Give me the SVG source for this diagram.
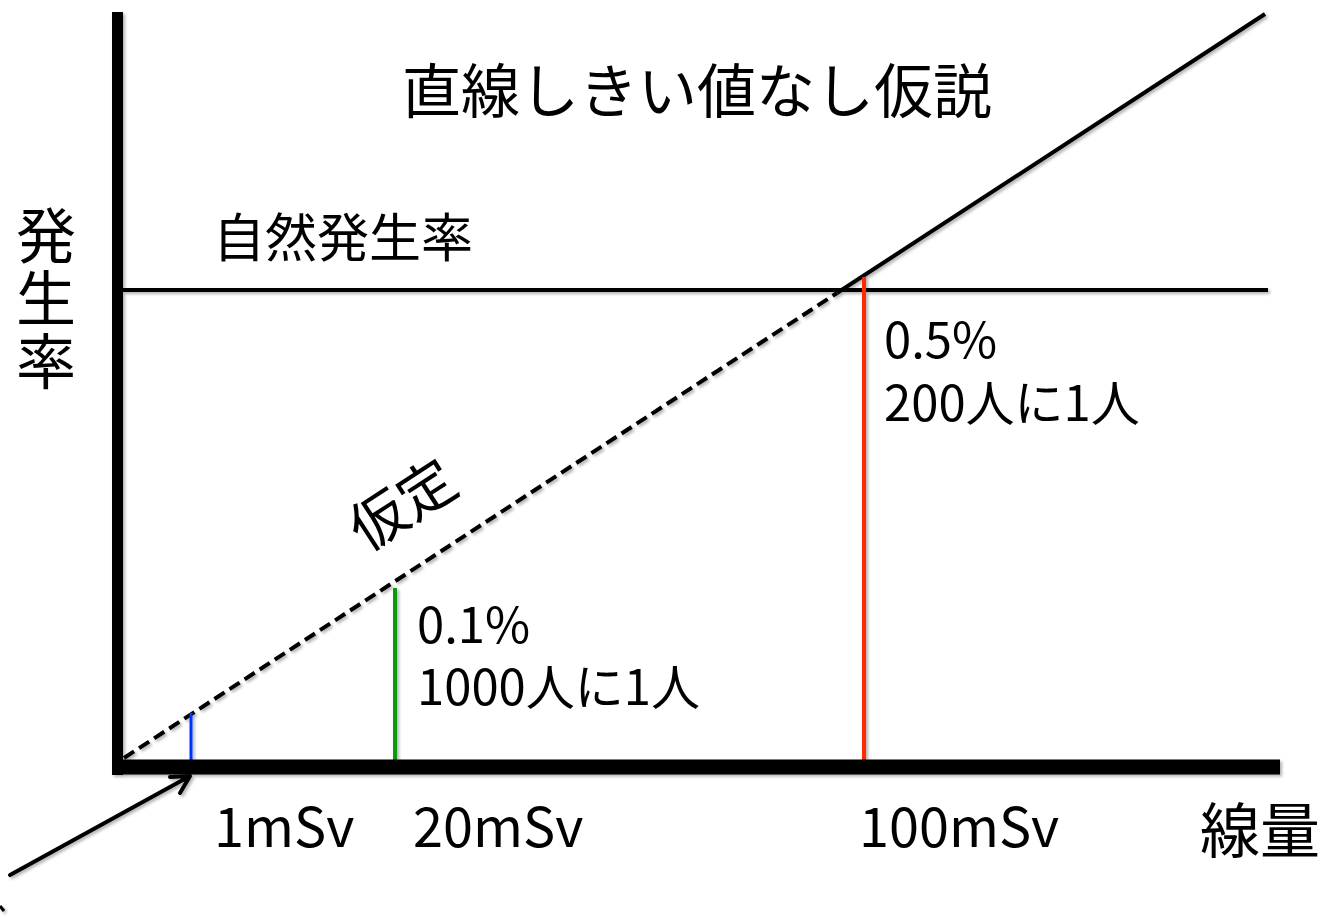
<svg xmlns="http://www.w3.org/2000/svg" width="1329" height="917" viewBox="0 0 1329 917">
<style>
text{font-family:"Noto Sans CJK JP","Noto Sans",sans-serif;fill:#000}
.ax{stroke:#000;stroke-linecap:butt;fill:none}
.ln{stroke:#000;stroke-width:4;fill:none}
</style>
<defs>
<filter id="sh" x="-5%" y="-5%" width="110%" height="110%">
<feDropShadow dx="2" dy="2" stdDeviation="1.5" flood-color="#000" flood-opacity="0.3"/>
</filter>
</defs>
<rect width="1329" height="917" fill="#fff"/>
<g id="connectors" filter="url(#sh)">
<line class="ln" x1="122" y1="290" x2="1268" y2="290" stroke-width="3"/>
<line class="ln" x1="124" y1="758" x2="837" y2="293" stroke-dasharray="12,6"/>
<line class="ln" x1="837" y1="293" x2="1265" y2="14"/>
<line x1="191" y1="713" x2="191" y2="762" stroke="#0033ff" stroke-width="3"/>
<line x1="395" y1="588" x2="395" y2="762" stroke="#119911" stroke-width="4"/>
<line x1="864" y1="277" x2="864" y2="762" stroke="#ff2a00" stroke-width="4"/>
<line class="ax" x1="117.5" y1="12" x2="117.5" y2="775" stroke-width="11"/>
<line class="ax" x1="112" y1="767" x2="1280" y2="767" stroke-width="15"/>
<path d="M10,875 L190,776 M170,777 L190,776 L180,793" fill="none" stroke="#000" stroke-width="4" stroke-linecap="round" stroke-linejoin="round"/>
<line x1="0" y1="906" x2="4" y2="911" stroke="#000" stroke-width="3"/>
</g>
<g id="title"><text x="402" y="113" font-size="59">直線しきい値なし仮説</text></g>
<g id="natural"><text x="213" y="257" font-size="52">自然発生率</text></g>
<g id="yaxis-label"><text x="46" y="205" font-size="60" writing-mode="tb" letter-spacing="3">発生率</text></g>
<g id="xaxis-label"><text x="1200" y="853" font-size="60">線量</text></g>
<g id="assume"><text x="0" y="0" font-size="57" transform="translate(366,553) rotate(-33)">仮定</text></g>
<g id="label-100"><text font-size="49"><tspan x="884" y="358">0.5%</tspan><tspan x="884" y="421">200人に1人</tspan></text></g>
<g id="label-20"><text font-size="49"><tspan x="417" y="643">0.1%</tspan><tspan x="417" y="705">1000人に1人</tspan></text></g>
<g id="ticks">
<text x="214" y="847" font-size="54">1mSv</text>
<text x="413" y="847" font-size="54">20mSv</text>
<text x="859" y="847" font-size="54">100mSv</text>
</g>
</svg>
